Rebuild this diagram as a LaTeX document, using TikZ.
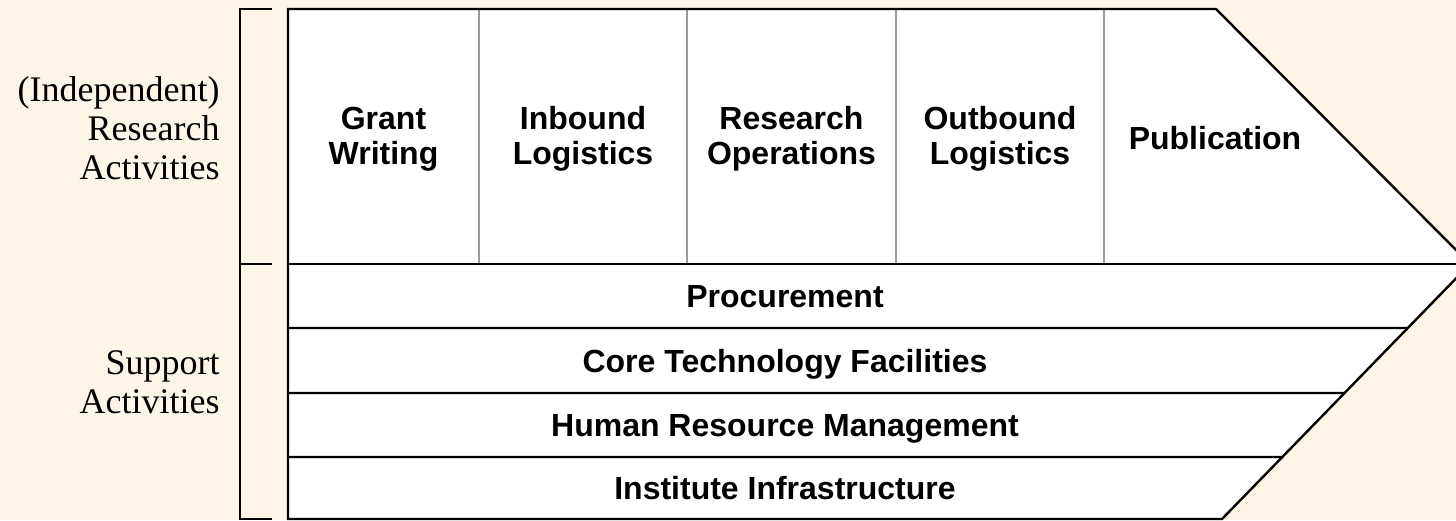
\documentclass[tikz,border=0pt]{standalone}
\usepackage{fontspec}
\setmainfont{Liberation Serif}
\newfontfamily\chainfont{Liberation Sans}
\usepackage{xcolor}
\definecolor{cream}{RGB}{255,245,230}
\definecolor{divgray}{RGB}{155,155,155}
\usetikzlibrary{calc}

\begin{document}
\begin{tikzpicture}[
  x=0.5pt, y=-0.5pt,
  chainline/.style={draw=black, line width=1.2pt},
  divider/.style={draw=divgray, line width=1.2pt},
  primary/.style={align=center, inner sep=0pt,
    font=\chainfont\bfseries\fontsize{16}{17.5}\selectfont},
  support/.style={anchor=base, inner sep=0pt,
    font=\chainfont\bfseries\fontsize{16}{17.5}\selectfont},
  sidelab/.style={align=right, anchor=east, inner sep=0pt,
    font=\fontsize{18}{19.5}\selectfont}
]
\useasboundingbox (0,0) rectangle (1456,520);
\fill[cream] (0,0) rectangle (1456,520);
\clip (0,0) rectangle (1456,520);

% outline of the chain
\coordinate (tl) at (288,9);
\coordinate (tr) at (1216,9);
\coordinate (tip) at (1470,264);
\coordinate (br) at (1222,519);
\coordinate (bl) at (288,519);
\fill[white] (tl) -- (tr) -- (tip) -- (br) -- (bl) -- cycle;

% primary activities
\foreach \xcol in {479,687,896,1104}
  \draw[divider] (\xcol,9) -- (\xcol,264);
\draw[chainline] (tl) -- (tr) -- (tip) -- (br) -- (bl) -- cycle;
\draw[chainline] (288,264) -- (tip);

% support rows
\foreach \ylev/\pos in {328/0.251, 393/0.506, 457/0.757}
  \draw[chainline] (288,\ylev) -- ($(tip)!\pos!(br)$);

% bracket
\draw[chainline] (272,9) -- (240,9) -- (240,519) -- (272,519);
\draw[chainline] (240,264) -- (272,264);

\node[primary] (grant) at (383.5,139) {Grant\\Writing};
\node[primary] (inbound) at (583,139) {Inbound\\Logistics};
\node[primary] (operations) at (791.5,139) {Research\\Operations};
\node[primary] (outbound) at (1000,139) {Outbound\\Logistics};
\node[primary] (publication) at (1215,138.5) {Publication};

\node[support] (procurement) at (785,307.5) {Procurement};
\node[support] (coretech) at (785,372) {Core Technology Facilities};
\node[support] (hrm) at (785,436.5) {Human Resource Management};
\node[support] (infra) at (785,499.5) {Institute Infrastructure};

\node[sidelab] (research) at (220,128) {(Independent)\\Research\\Activities};
\node[sidelab] (supportlab) at (220,382) {Support\\Activities};
\end{tikzpicture}
\end{document}
